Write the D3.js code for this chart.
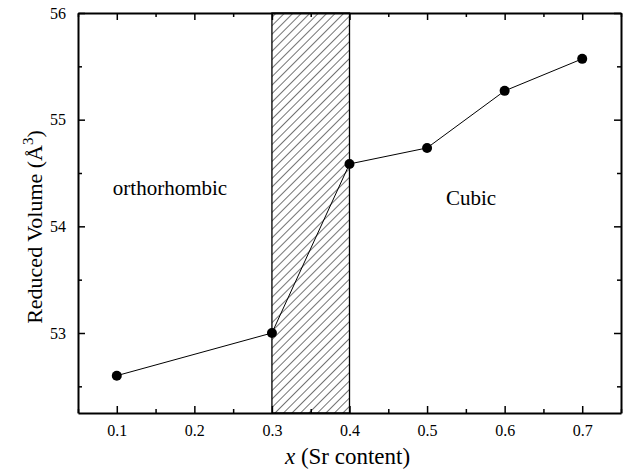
<!DOCTYPE html>
<html><head><meta charset="utf-8">
<script src="https://cdn.jsdelivr.net/npm/d3@7/dist/d3.min.js"></script></head>
<body style="margin:0">
<svg id="chart" width="633" height="473"></svg>
<script>
// Sr content and reduced cell volume
const srContent = [0.1, 0.3, 0.4, 0.5, 0.6, 0.7];
const reducedVolume = [52.6, 53.0, 54.585, 54.735, 55.27, 55.57];

// Two-phase region between the structures
const mixedRegion = [0.3, 0.4];

const xTicks = [0.1, 0.2, 0.3, 0.4, 0.5, 0.6, 0.7];
const xMinorTicks = [0.05, 0.15, 0.25, 0.35, 0.45, 0.55, 0.65, 0.75];
const yTicks = [53, 54, 55, 56];
const yMinorTicks = [52.5, 53.5, 54.5, 55.5];

const phaseLabels = [
  { text: "orthorhombic", x: 0.1686, y: 54.294 },
  { text: "Cubic", x: 0.5566, y: 54.2 }
];

const SERIF = '"Liberation Serif"';
const svg = d3.select("#chart");
const m = { left: 78, right: 12, top: 13, bottom: 60 };
const W = 633, H = 473;

const x = d3.scaleLinear().domain([0.05, 0.75]).range([m.left, W - m.right]);
const y = d3.scaleLinear().domain([52.25, 56]).range([H - m.bottom, m.top]);

// diagonal hatch pattern
const defs = svg.append("defs");
const pat = defs.append("pattern")
  .attr("id", "hatch")
  .attr("patternUnits", "userSpaceOnUse")
  .attr("width", 6).attr("height", 6)
  .attr("patternTransform", "rotate(45)");
pat.append("line")
  .attr("x1", 0).attr("y1", 0).attr("x2", 0).attr("y2", 6)
  .attr("stroke", "#000").attr("stroke-width", 1.1);

svg.append("rect")
  .attr("x", x(mixedRegion[0]))
  .attr("y", y(56))
  .attr("width", x(mixedRegion[1]) - x(mixedRegion[0]))
  .attr("height", y(52.25) - y(56))
  .attr("fill", "url(#hatch)")
  .attr("stroke", "#000")
  .attr("stroke-width", 1.3);

// data line and markers
const pts = srContent.map((d, i) => [d, reducedVolume[i]]);
svg.append("path")
  .datum(pts)
  .attr("fill", "none")
  .attr("stroke", "#000")
  .attr("stroke-width", 1)
  .attr("d", d3.line().x(d => x(d[0])).y(d => y(d[1])));

svg.selectAll("circle.pt")
  .data(pts)
  .join("circle")
  .attr("class", "pt")
  .attr("cx", d => x(d[0]))
  .attr("cy", d => y(d[1]))
  .attr("r", 5)
  .attr("fill", "#000");

// axes with inward ticks on all sides
const fmt = d3.format(".1f");
function styleAxis(g) {
  g.attr("font-family", null).attr("font-size", null);
  g.select(".domain").attr("stroke-width", 2);
  g.selectAll(".tick line").attr("stroke-width", 1.5);
  g.selectAll("text")
    .style("font-family", SERIF)
    .attr("font-size", 16).attr("fill", "#000");
}
function minor(g) {
  g.select(".domain").remove();
  g.selectAll(".tick line").attr("stroke-width", 1.5);
}

const xb = svg.append("g").attr("transform", `translate(0,${y(52.25)})`)
  .call(d3.axisBottom(x).tickValues(xTicks).tickFormat(fmt).tickSizeInner(-7).tickSizeOuter(0).tickPadding(12));
styleAxis(xb);
svg.append("g").attr("transform", `translate(0,${y(52.25)})`)
  .call(d3.axisBottom(x).tickValues(xMinorTicks).tickFormat("").tickSizeInner(-4).tickSizeOuter(0))
  .call(minor);

const xt = svg.append("g").attr("transform", `translate(0,${y(56)})`)
  .call(d3.axisTop(x).tickValues(xTicks).tickFormat("").tickSizeInner(-7).tickSizeOuter(0));
styleAxis(xt);
svg.append("g").attr("transform", `translate(0,${y(56)})`)
  .call(d3.axisTop(x).tickValues(xMinorTicks).tickFormat("").tickSizeInner(-4).tickSizeOuter(0))
  .call(minor);

const yl = svg.append("g").attr("transform", `translate(${x(0.05)},0)`)
  .call(d3.axisLeft(y).tickValues(yTicks).tickFormat(d3.format("d")).tickSizeInner(-7).tickSizeOuter(0).tickPadding(12));
styleAxis(yl);
svg.append("g").attr("transform", `translate(${x(0.05)},0)`)
  .call(d3.axisLeft(y).tickValues(yMinorTicks).tickFormat("").tickSizeInner(-4).tickSizeOuter(0))
  .call(minor);

const yr = svg.append("g").attr("transform", `translate(${x(0.75)},0)`)
  .call(d3.axisRight(y).tickValues(yTicks).tickFormat("").tickSizeInner(-7).tickSizeOuter(0));
styleAxis(yr);
svg.append("g").attr("transform", `translate(${x(0.75)},0)`)
  .call(d3.axisRight(y).tickValues(yMinorTicks).tickFormat("").tickSizeInner(-4).tickSizeOuter(0))
  .call(minor);

// phase labels
svg.selectAll("text.phase")
  .data(phaseLabels)
  .join("text")
  .attr("class", "phase")
  .attr("x", d => x(d.x))
  .attr("y", d => y(d.y))
  .attr("text-anchor", "middle")
  .style("font-family", SERIF)
  .attr("font-size", 21)
  .text(d => d.text);

// axis titles
const xTitle = svg.append("text")
  .attr("x", (x(0.05) + x(0.75)) / 2 - 2)
  .attr("y", 464)
  .attr("text-anchor", "middle")
  .style("font-family", SERIF)
  .attr("font-size", 23);
xTitle.append("tspan").attr("font-style", "italic").text("x");
xTitle.append("tspan").text(" (Sr content)");

const yTitle = svg.append("text")
  .attr("transform", `translate(42,${(y(52.25) + y(56)) / 2 + 14}) rotate(-90)`)
  .attr("text-anchor", "middle")
  .style("font-family", SERIF)
  .attr("font-size", 22);
yTitle.append("tspan").text("Reduced Volume (\u00C5");
yTitle.append("tspan").attr("font-size", 15).attr("dy", -9).text("3");
yTitle.append("tspan").attr("dy", 9).text(")");
</script>
</body></html>
